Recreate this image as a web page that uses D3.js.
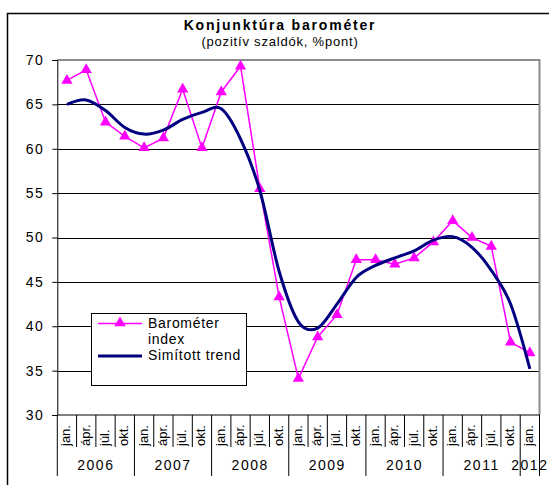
<!DOCTYPE html>
<html>
<head>
<meta charset="utf-8">
<script src="https://cdn.jsdelivr.net/npm/d3@7"></script>
<style>
  body { margin: 0; background: #fff; }
  svg { display: block; font-family: "Liberation Sans", Arial, sans-serif; }
</style>
</head>
<body>
<div id="graf"></div>
<script>
// Datos
meses = ['jan.', 'ápr.', 'júl.', 'okt.', 'jan.', 'ápr.', 'júl.', 'okt.',
         'jan.', 'ápr.', 'júl.', 'okt.', 'jan.', 'ápr.', 'júl.', 'okt.',
         'jan.', 'ápr.', 'júl.', 'okt.', 'jan.', 'ápr.', 'júl.', 'okt.', 'jan.']
anios = ['2006', '2007', '2008', '2009', '2010', '2011', '2012']
trimestresPorAnio = [4, 4, 4, 4, 4, 4, 1]

barometro = [67.7, 68.9, 63.0, 61.4, 60.1, 61.2, 66.7, 60.1, 66.4, 69.3,
             55.5, 43.3, 34.1, 38.8, 41.3, 47.5, 47.5, 47.0, 47.7, 49.5,
             51.9, 50.0, 49.0, 38.2, 37.0]
trend = [65.0, 65.5, 64.3, 62.4, 61.65, 62.1, 63.3, 64.1, 64.5, 61.1,
         55.3, 46.2, 40.5, 39.8, 42.5, 45.5, 46.85, 47.7, 48.5, 49.7,
         50.1, 48.9, 46.3, 42.5, 35.2]
yTicks = [30, 35, 40, 45, 50, 55, 60, 65, 70]

// Configuración
ancho_total = 549
alto_total = 485
margins = { top: 60, left: 57.3, right: 9.5, bottom: 70 }
ancho = ancho_total - margins.left - margins.right
alto = alto_total - margins.top - margins.bottom

svg = d3.select('#graf').append('svg')
        .attr('width', ancho_total)
        .attr('height', alto_total)

// marco exterior
svg.append('rect')
   .attr('x', 7.5).attr('y', 13.5)
   .attr('width', 600).attr('height', 600)
   .attr('fill', '#fff')
   .attr('stroke', '#000')
   .attr('stroke-width', 1.5)

svg.append('text')
   .attr('x', 280).attr('y', 30)
   .attr('text-anchor', 'middle')
   .style('font-size', '14px')
   .style('font-weight', 'bold')
   .style('letter-spacing', '1.8px')
   .text('Konjunktúra barométer')

svg.append('text')
   .attr('x', 280).attr('y', 46)
   .attr('text-anchor', 'middle')
   .style('font-size', '13px')
   .style('letter-spacing', '0.8px')
   .text('(pozitív szaldók, %pont)')

g = svg.append('g')
       .attr('transform', `translate(${ margins.left }, ${ margins.top })`)

x = d3.scaleBand()
      .domain(d3.range(meses.length))
      .range([0, ancho])
      .padding(0)

y = d3.scaleLinear()
      .domain([30, 70])
      .range([alto, 0])

// rejilla
g.selectAll('line.grid')
 .data(yTicks.filter(d => d > 30 && d < 70))
 .enter().append('line')
   .attr('class', 'grid')
   .attr('x1', 0).attr('x2', ancho)
   .attr('y1', d => Math.round(y(d)) + 0.5)
   .attr('y2', d => Math.round(y(d)) + 0.5)
   .attr('stroke', '#000')
   .attr('stroke-width', 1)

// borde del área de trazado (arriba y derecha)
g.append('path')
 .attr('d', `M0,${ y(70) }H${ ancho }V${ alto }`)
 .attr('fill', 'none')
 .attr('stroke', '#8c8c8c')
 .attr('stroke-width', 2)

// eje y
yAxisCall = d3.axisLeft(y)
              .tickValues(yTicks)
              .tickSize(5)
              .tickPadding(8)
yAxisGroup = g.append('g').call(yAxisCall)
yAxisGroup.select('.domain').attr('stroke', '#000')
yAxisGroup.selectAll('.tick text')
          .style('font-size', '14px')
          .style('letter-spacing', '1.5px')
          .attr('fill', '#000')

// eje x
g.append('line')
 .attr('x1', 0).attr('x2', ancho)
 .attr('y1', alto).attr('y2', alto)
 .attr('stroke', '#000')

inicios = [0]
trimestresPorAnio.forEach((n, i) => inicios.push(inicios[i] + n))

separadores = d3.range(meses.length + 1)
g.selectAll('line.sep')
 .data(separadores)
 .enter().append('line')
   .attr('class', 'sep')
   .attr('x1', d => (d < meses.length ? x(d) : ancho))
   .attr('x2', d => (d < meses.length ? x(d) : ancho))
   .attr('y1', alto)
   .attr('y2', d => inicios.includes(d) ? alto + 61 : alto + 32)
   .attr('stroke', '#000')
   .attr('stroke-width', 1)

g.selectAll('text.mes')
 .data(meses)
 .enter().append('text')
   .attr('class', 'mes')
   .attr('transform', (d, i) => `translate(${ x(i) + x.bandwidth() / 2 + 3.5 }, ${ alto + 31 }) rotate(-90)`)
   .style('font-size', '13px')
   .text(d => d)

g.selectAll('text.anio')
 .data(anios)
 .enter().append('text')
   .attr('class', 'anio')
   .attr('x', (d, i) => x(inicios[i]) + trimestresPorAnio[i] * x.bandwidth() / 2)
   .attr('y', alto + 55)
   .attr('text-anchor', 'middle')
   .style('font-size', '14px')
   .style('letter-spacing', '1.5px')
   .text(d => d)

// series
lineaTrend = d3.line()
               .x((d, i) => x(i) + x.bandwidth() / 2)
               .y(d => y(d))
               .curve(d3.curveCardinal)

lineaBar = d3.line()
             .x((d, i) => x(i) + x.bandwidth() / 2)
             .y(d => y(d))

g.append('path')
 .datum(barometro)
 .attr('d', lineaBar)
 .attr('fill', 'none')
 .attr('stroke', '#ff00ff')
 .attr('stroke-width', 1.5)

triangulo = d3.symbol().type(d3.symbolTriangle).size(55)

g.selectAll('path.marca')
 .data(barometro)
 .enter().append('path')
   .attr('class', 'marca')
   .attr('d', triangulo)
   .attr('transform', (d, i) => `translate(${ x(i) + x.bandwidth() / 2 }, ${ y(d) })`)
   .attr('fill', '#ff00ff')

g.append('path')
 .datum(trend)
 .attr('d', lineaTrend)
 .attr('fill', 'none')
 .attr('stroke', '#000080')
 .attr('stroke-width', 3)

// leyenda
ley = svg.append('g')
ley.append('rect')
   .attr('x', 91.5).attr('y', 313.5)
   .attr('width', 155).attr('height', 72)
   .attr('fill', '#fff')
   .attr('stroke', '#000')

ley.append('line')
   .attr('x1', 98).attr('x2', 142)
   .attr('y1', 323.5).attr('y2', 323.5)
   .attr('stroke', '#ff00ff')
   .attr('stroke-width', 1.5)
ley.append('path')
   .attr('d', triangulo)
   .attr('transform', 'translate(120, 323)')
   .attr('fill', '#ff00ff')
ley.append('line')
   .attr('x1', 98).attr('x2', 142)
   .attr('y1', 356).attr('y2', 356)
   .attr('stroke', '#000080')
   .attr('stroke-width', 3)

ley.selectAll('text')
   .data([['Barométer', 328], ['index', 344], ['Simított trend', 360]])
   .enter().append('text')
     .attr('x', 148)
     .attr('y', d => d[1])
     .style('font-size', '14px')
     .style('letter-spacing', '0.7px')
     .text(d => d[0])
</script>
</body>
</html>
